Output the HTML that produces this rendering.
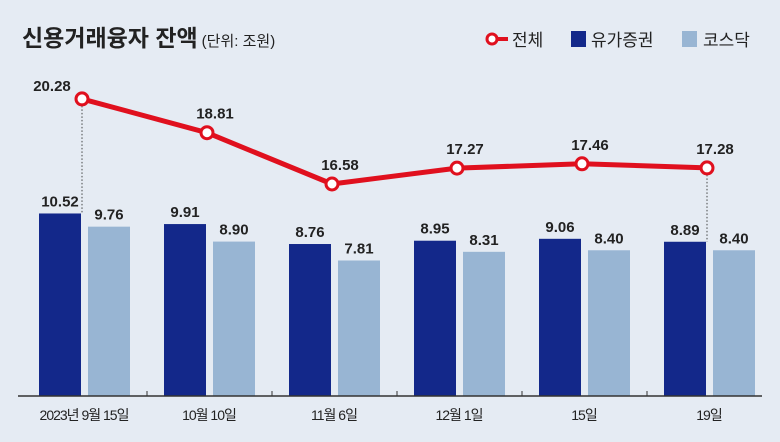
<!DOCTYPE html>
<html><head><meta charset="utf-8"><style>
body{margin:0;background:#e5ebf3;}
svg{display:block;font-family:"Liberation Sans","Noto Sans CJK KR",sans-serif;}
</style></head><body>
<svg width="780" height="442">
<rect width="780" height="442" fill="#e5ebf3"/>
<text x="22" y="46" font-size="23" font-weight="bold" fill="#222">신용거래융자 잔액<tspan font-size="15" font-weight="normal" dx="4">(단위: 조원)</tspan></text>
<g>
<line x1="494" y1="39" x2="508" y2="39" stroke="#e0101e" stroke-width="4"/>
<circle cx="492" cy="39" r="5" fill="#fff" stroke="#e0101e" stroke-width="3"/>
<text x="512" y="46" font-size="17" fill="#222">전체</text>
<rect x="571" y="31" width="15" height="16" fill="#13288a"/>
<text x="591" y="46" font-size="17" fill="#222">유가증권</text>
<rect x="682" y="31" width="15" height="16" fill="#98b5d3"/>
<text x="703" y="46" font-size="17" fill="#222">코스닥</text>
</g>
<g id="plot"></g>
</svg>
<script>
const categories=["2023년 9월 15일","10월 10일","11월 6일","12월 1일","15일","19일"];
const kospi=[10.52,9.91,8.76,8.95,9.06,8.89];
const kosdaq=[9.76,8.90,7.81,8.31,8.40,8.40];
const total=[20.28,18.81,16.58,17.27,17.46,17.28];
const NS="http://www.w3.org/2000/svg";
const g=document.getElementById('plot');
const base=396,barK=17.35;
const groupX=i=>39+i*125;
const yBar=v=>base-v*barK;
const yLine=v=>184-(v-16.58)*23;
function mk(t,a,p){const e=document.createElementNS(NS,t);for(const k in a)e.setAttribute(k,a[k]);(p||g).appendChild(e);return e;}
categories.forEach((c,i)=>{
 const x=groupX(i);
 const b1=mk('rect',{x:x,y:yBar(kospi[i]),width:42,height:kospi[i]*barK,fill:'#13288a'});
 
 
 const b2=mk('rect',{x:x+49,y:yBar(kosdaq[i]),width:42,height:kosdaq[i]*barK,fill:'#98b5d3'});
 
 
 const t1=mk('text',{x:x+21,y:yBar(kospi[i])-7,'text-anchor':'middle','font-size':15,'font-weight':'bold',fill:'#222'});
 t1.textContent=kospi[i].toFixed(2);
 
 
 const t2=mk('text',{x:x+70,y:yBar(kosdaq[i])-7,'text-anchor':'middle','font-size':15,'font-weight':'bold',fill:'#222'});
 t2.textContent=kosdaq[i].toFixed(2);
 
 
 const xl=mk('text',{x:x+45,y:420,'text-anchor':'middle','font-size':14,fill:'#222','letter-spacing':'-1'});
 xl.textContent=c;
 
 
 if(i>0){const tk=mk('line',{x1:x-17,y1:base-5,x2:x-17,y2:base,stroke:'#333','stroke-width':1});
 
 }
});
const ax=mk('line',{x1:18,y1:base,x2:762,y2:base,stroke:'#333','stroke-width':1.5});


const lx=i=>groupX(i)+43;
// dotted guides
[0,5].forEach(i=>{
 const d=mk('line',{x1:lx(i),y1:yLine(total[i]),x2:lx(i),y2:Math.min(yBar(kospi[i]),yBar(kosdaq[i])),stroke:'#444','stroke-width':1,'stroke-dasharray':'1.5,2'});
 
 
});
const pts=total.map((v,i)=>lx(i)+','+yLine(v)).join(' ');
const pl=mk('polyline',{points:pts,fill:'none',stroke:'#e0101e','stroke-width':5,'stroke-linejoin':'round'});


total.forEach((v,i)=>{
 const c=mk('circle',{cx:lx(i),cy:yLine(v),r:6,fill:'#fff',stroke:'#e0101e','stroke-width':3});
 
 
 const t=mk('text',{x:i==0?lx(i)-30:lx(i)+8,y:yLine(v)-14,'text-anchor':'middle','font-size':15,'font-weight':'bold',fill:'#222'});
 if(i==0){t.setAttribute('y',yLine(v)-8);}
 t.textContent=v.toFixed(2);
 
 
});
</script>
</body></html>
